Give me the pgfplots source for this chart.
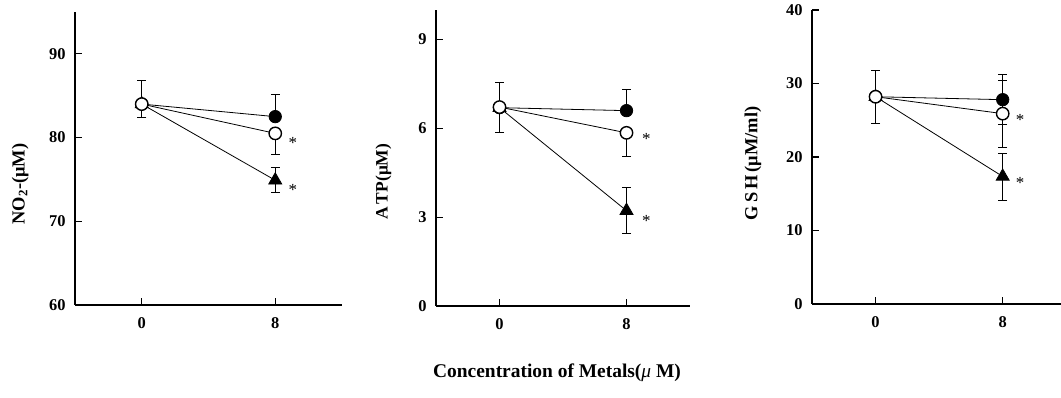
\documentclass[border=0pt]{standalone}
\usepackage{pgfplots}
\pgfplotsset{compat=1.18}
\usepackage{fontspec}
\setmainfont{Liberation Serif}
\tikzset{astx/.style={font=\fontsize{17}{17}\selectfont, yshift=-2.5bp}}
\begin{document}
\begin{tikzpicture}
\useasboundingbox (0,0) rectangle (1061bp,398bp);
\pgfplotsset{
  panel/.style={
    scale only axis, clip=false,
    axis lines=left,
    axis line style={-, line width=1.7bp},
    every tick/.style={black, line width=1.2bp},
    tick align=inside, major tick length=7bp,
    xmin=-4, xtick={0,8},
    /pgf/number format/assume math mode=true,
    ticklabel style={font=\fontsize{16.5}{16.5}\selectfont\bfseries},
    yticklabel style={xshift=-6bp},
    xticklabel style={yshift=-9bp},
    ylabel style={font=\fontsize{18.5}{18.5}\selectfont\bfseries, rotate=0},
  },
  tri/.style={black, line width=0.8bp, mark=triangle*, mark size=7.5bp, mark options={fill=black, solid},
     error bars/.cd, y dir=both, y explicit,
     error bar style={line width=0.8bp},
     error mark options={rotate=90, mark size=4.5bp, line width=0.8bp}},
  fc/.style={black, line width=0.8bp, mark=*, mark size=6.2bp, mark options={fill=black, solid},
     error bars/.cd, y dir=both, y explicit,
     error bar style={line width=0.8bp},
     error mark options={rotate=90, mark size=4.5bp, line width=0.8bp}},
  oc/.style={black, line width=0.8bp, mark=*, mark size=6.2bp, mark options={fill=white, solid, line width=1.4bp},
     error bars/.cd, y dir=both, y explicit,
     error bar style={line width=0.8bp},
     error mark options={rotate=90, mark size=4.5bp, line width=0.8bp}},
}
% Panel 1: NO2
\begin{axis}[panel, at={(75bp,93bp)}, anchor=south west, width=267bp, height=293bp,
  xmax=12, ymin=60, ymax=95, ytick={60,70,80,90},
  ylabel={NO\textsubscript{2}-(μM)},
  ylabel style={at={(axis description cs:-0.205,0.413)}, anchor=center}]
\addplot+[tri] coordinates {(0,84) +- (0,0) (8,74.9) +- (0,1.5)};
\addplot+[fc] coordinates {(0,84) +- (0,0) (8,82.5) += (0,2.7) -= (0,0)};
\addplot+[oc] coordinates {(0,84) += (0,2.8) -= (0,1.6) (8,80.5) += (0,0) -= (0,2.5)};
\node[astx] at (axis cs:9.05,79.6) {*};
\node[astx] at (axis cs:9.05,74.0) {*};
\end{axis}
% Panel 2: ATP
\begin{axis}[panel, at={(436bp,92bp)}, anchor=south west, width=254bp, height=296bp,
  xmax=12, ymin=0, ymax=10, ytick={0,3,6,9},
  ylabel={A\,TP(μM)},
  ylabel style={at={(axis description cs:-0.207,0.42)}, anchor=center, font=\fontsize{17.5}{17.5}\selectfont\bfseries}]
\addplot+[tri] coordinates {(0,6.7) +- (0,0) (8,3.22) +- (0,0.78)};
\addplot+[fc] coordinates {(0,6.7) +- (0,0) (8,6.6) += (0,0.72) -= (0,0)};
\addplot+[oc] coordinates {(0,6.72) +- (0,0.84) (8,5.85) += (0,0) -= (0,0.8)};
\node[astx] at (axis cs:9.25,5.74) {*};
\node[astx] at (axis cs:9.25,2.97) {*};
\end{axis}
% Panel 3: GSH
\begin{axis}[panel, at={(812bp,94bp)}, anchor=south west, width=249bp, height=294bp,
  xmax=11.67, ymin=0, ymax=40, ytick={0,10,20,30,40},
  ylabel={G\,S\,H\,(μM/ml)},
  ylabel style={at={(axis description cs:-0.237,0.478)}, anchor=center}]
\addplot+[tri] coordinates {(0,28.2) +- (0,0) (8,17.35) +- (0,3.2)};
\addplot+[fc] coordinates {(0,28.2) +- (0,0) (8,27.8) +- (0,3.4)};
\addplot+[oc] coordinates {(0,28.2) +- (0,3.6) (8,25.9) +- (0,4.55)};
\node[astx] at (axis cs:9.1,25.4) {*};
\node[astx] at (axis cs:9.1,16.8) {*};
\end{axis}
\node[font=\fontsize{19.5}{20}\selectfont\bfseries] at (557bp,25bp) {Concentration of Metals({\mdseries\itshape μ} M)};
\end{tikzpicture}
\end{document}
